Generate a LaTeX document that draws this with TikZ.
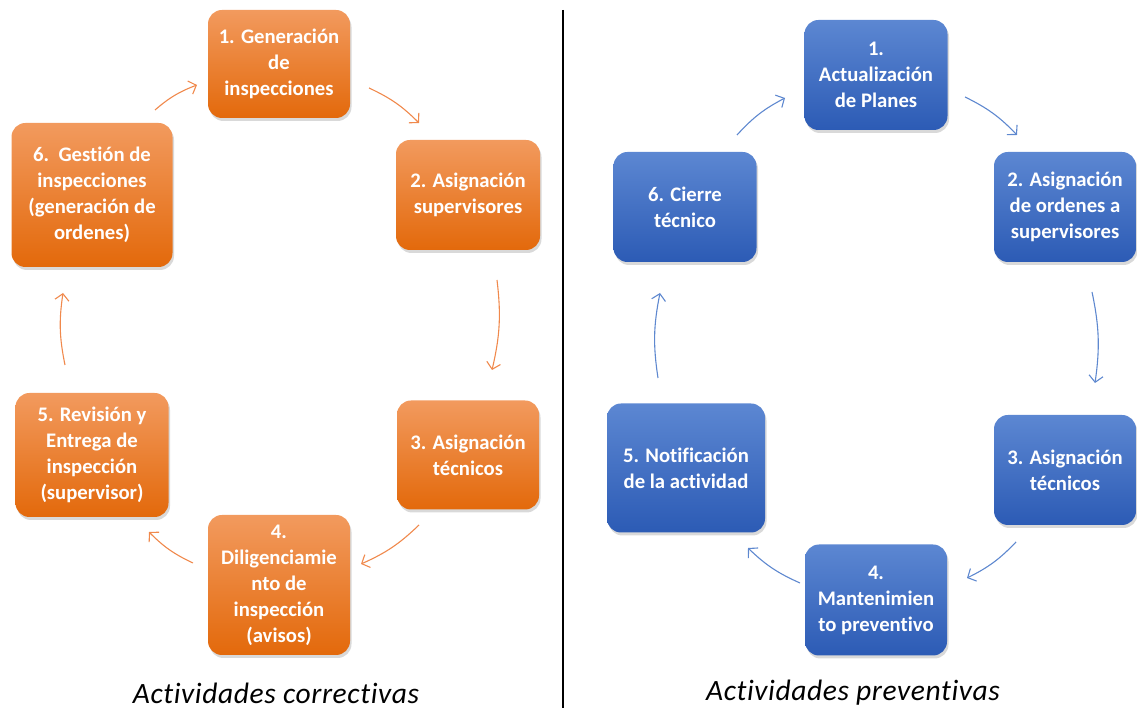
\documentclass[tikz,border=0pt]{standalone}
\usepackage{fontspec}
\setmainfont{Carlito}[Ligatures=NoCommon]
\usetikzlibrary{arrows.meta,shadows}
\definecolor{orTop}{HTML}{F29A5E}
\definecolor{orBot}{HTML}{E3690B}
\definecolor{blTop}{HTML}{5C87D2}
\definecolor{blBot}{HTML}{2C5BB5}
\definecolor{orLine}{HTML}{F0894C}
\definecolor{blLine}{HTML}{5E88CF}
\tikzset{
  box/.style={rounded corners=14pt, align=center, text=white, inner sep=0pt,
    font=\bfseries\fontsize{20.7}{26}\selectfont,
    drop shadow={shadow xshift=1.5pt, shadow yshift=-3pt, opacity=0.3}},
  obox/.style={box, top color=orTop, bottom color=orBot},
  bbox/.style={box, top color=blTop, bottom color=blBot},
  flow/.style={line width=1.1pt, -{Straight Barb[length=6.5pt,width=14pt]}},
  oflow/.style={flow, draw=orLine},
  bflow/.style={flow, draw=blLine},
  caption/.style={font=\itshape\fontsize{29.5}{34}\selectfont\addfontfeatures{LetterSpace=2}}
}
\begin{document}
\begin{tikzpicture}[x=1pt,y=1pt]
\useasboundingbox (0,0) rectangle (1137,717);

% divider between the two cycles
\coordinate (divTop) at (563,707);
\coordinate (divBot) at (563,9);
\draw[line width=1.4pt] (divTop) -- (divBot);

% corrective cycle
\node[obox, minimum width=142pt, minimum height=108pt] (L1) at (279,653) {1. Generación\\de\\inspecciones};
\node[obox, minimum width=144pt, minimum height=110pt] (L2) at (468,522) {2. Asignación\\supervisores};
\node[obox, minimum width=142pt, minimum height=109pt] (L3) at (468,262) {3. Asignación\\técnicos};
\node[obox, minimum width=142pt, minimum height=140pt] (L4) at (279,132) {4.\\Diligenciamie\\nto de\\inspección\\(avisos)};
\node[obox, minimum width=153pt, minimum height=124pt] (L5) at (92,262) {5. Revisión y\\Entrega de\\inspección\\(supervisor)};
\node[obox, minimum width=161pt, minimum height=144pt] (L6) at (92,522) {6.\ \ Gestión de\\inspecciones\\(generación de\\ordenes)};

\coordinate (la1) at (369,629); \coordinate (lb1) at (419,594);
\coordinate (la2) at (497,437); \coordinate (lb2) at (492,347);
\coordinate (la3) at (419,192); \coordinate (lb3) at (361,153);
\coordinate (la4) at (193,154); \coordinate (lb4) at (149,185);
\coordinate (la5) at (65,352);  \coordinate (lb5) at (63,424);
\coordinate (la6) at (155,607); \coordinate (lb6) at (197,632);
\foreach \i in {1,...,6} \draw[oflow] (la\i) to[bend left=10] (lb\i);

\node[caption] (capL) at (276,24) {Actividades correctivas};

% preventive cycle
\node[bbox, minimum width=143pt, minimum height=110pt] (R1) at (876,642) {1.\\Actualización\\de Planes};
\node[bbox, minimum width=142pt, minimum height=110pt] (R2) at (1065,510) {2. Asignación\\de ordenes a\\supervisores};
\node[bbox, minimum width=142pt, minimum height=110pt] (R3) at (1065,247) {3. Asignación\\técnicos};
\node[bbox, minimum width=142pt, minimum height=111pt] (R4) at (876,117) {4.\\Mantenimien\\to preventivo};
\node[bbox, minimum width=158pt, minimum height=129pt] (R5) at (686,249) {5. Notificación\\de la actividad};
\node[bbox, minimum width=143pt, minimum height=110pt] (R6) at (685,510) {6. Cierre\\técnico};

\coordinate (ra1) at (965,620);  \coordinate (rb1) at (1017,582);
\coordinate (ra2) at (1092,425); \coordinate (rb2) at (1095,334);
\coordinate (ra3) at (1016,175); \coordinate (rb3) at (967,139);
\coordinate (ra4) at (800,134);  \coordinate (rb4) at (748,169);
\coordinate (ra5) at (658,339);  \coordinate (rb5) at (660,424);
\coordinate (ra6) at (737,582);  \coordinate (rb6) at (785,619);
\foreach \i in {1,...,6} \draw[bflow] (ra\i) to[bend left=10] (rb\i);

\node[caption] (capR) at (853,24) {Actividades preventivas};
\end{tikzpicture}
\end{document}
